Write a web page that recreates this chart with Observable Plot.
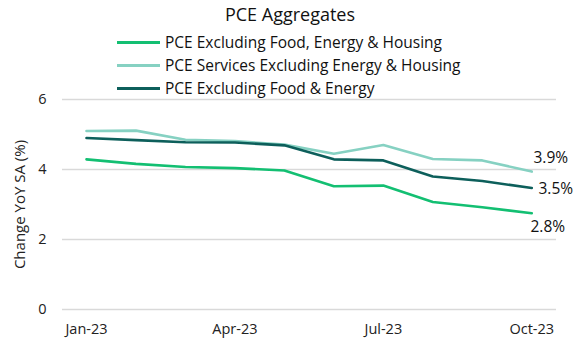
<!DOCTYPE html>
<html><head><meta charset="utf-8">
<script src="https://cdn.jsdelivr.net/npm/d3@7"></script>
<script src="https://cdn.jsdelivr.net/npm/@observablehq/plot@0.6"></script>
<style>
body{margin:0;background:#fff;font-family:"Open Sans",sans-serif;color:#111;}
#wrap{width:580px;height:350px;position:relative;overflow:hidden;}
#title{position:absolute;left:0;width:580px;top:2px;text-align:center;font-size:18px;}
.leg{position:absolute;left:117px;font-size:15.5px;display:flex;align-items:center;white-space:nowrap;}
.leg span.sw{display:inline-block;width:43px;height:3px;margin-right:5px;}
#chart{position:absolute;left:0;top:92px;}
</style></head>
<body><div id="wrap"><div id="title">PCE Aggregates</div><div id="legend"></div><div id="chart"></div></div>
<script>
const months = ["Jan-23","Feb-23","Mar-23","Apr-23","May-23","Jun-23","Jul-23","Aug-23","Sep-23","Oct-23"];
const seriesNames = ["PCE Excluding Food, Energy & Housing","PCE Services Excluding Energy & Housing","PCE Excluding Food & Energy"];
const colors = ["#13bf72","#86d1c2","#0d5f5b"];
const exFoodEnergyHousing = [4.29,4.16,4.07,4.04,3.97,3.52,3.54,3.07,2.92,2.75];
const servicesExEnergyHousing = [5.10,5.11,4.85,4.81,4.71,4.45,4.70,4.30,4.26,3.94];
const exFoodEnergy = [4.90,4.84,4.78,4.77,4.69,4.29,4.26,3.80,3.67,3.47];
const endLabels = ["2.8%","3.9%","3.5%"];
const xTicks = ["Jan-23","Apr-23","Jul-23","Oct-23"];
const yTicks = [0,2,4,6];

const valuesList = [exFoodEnergyHousing, servicesExEnergyHousing, exFoodEnergy];
const data = [];
valuesList.forEach((vals,s)=>vals.forEach((v,i)=>data.push({series:seriesNames[s], i, v})));
const last = seriesNames.map((n,s)=>({series:n, i:months.length-1, v:valuesList[s][months.length-1], label:endLabels[s]}));
const offsets = [{dx:16,dy:14},{dx:19,dy:-14},{dx:24,dy:1}];

const leg = document.getElementById("legend");
seriesNames.forEach((n,s)=>{
  const d=document.createElement("div");d.className="leg";d.style.top=(31+s*23)+"px";
  d.innerHTML=`<span class="sw" style="background:${colors[s]}"></span>${n.replace(/&/g,"&amp;")}`;
  leg.appendChild(d);
});

const plot = Plot.plot({
  width:580, height:258,
  marginLeft:62, marginRight:24, marginTop:7, marginBottom:41,
  style:{fontFamily:"Open Sans, sans-serif", fontSize:"14.5px", color:"#222", background:"transparent", overflow:"visible"},
  x:{domain:[-0.485,9.5]},
  y:{domain:[0,6]},
  color:{domain:seriesNames, range:colors},
  marks:[
    Plot.ruleY(yTicks,{stroke:"#d9d9d9",strokeWidth:1.5}),
    Plot.axisY({ticks:yTicks, tickFormat:d3.format("d"), tickSize:0, tickPadding:16, label:null, fontSize:14.5}),
    Plot.text(["Change YoY SA (%)"],{frameAnchor:"left", textAnchor:"middle", dx:-42, rotate:-90, fontSize:15, fill:"#222"}),
    Plot.axisX({ticks:xTicks.map(t=>months.indexOf(t)), tickFormat:i=>months[i], tickSize:0, tickPadding:14, label:null, fontSize:14.5}),
    Plot.line(data,{x:"i",y:"v",z:"series",stroke:"series",strokeWidth:2.6}),
    ...last.map((d,s)=>Plot.text([d],{x:"i",y:"v",text:"label",dx:offsets[s].dx,dy:offsets[s].dy,fontSize:15.5,fill:"#111"}))
  ]
});
document.getElementById("chart").appendChild(plot);
</script></body></html>
